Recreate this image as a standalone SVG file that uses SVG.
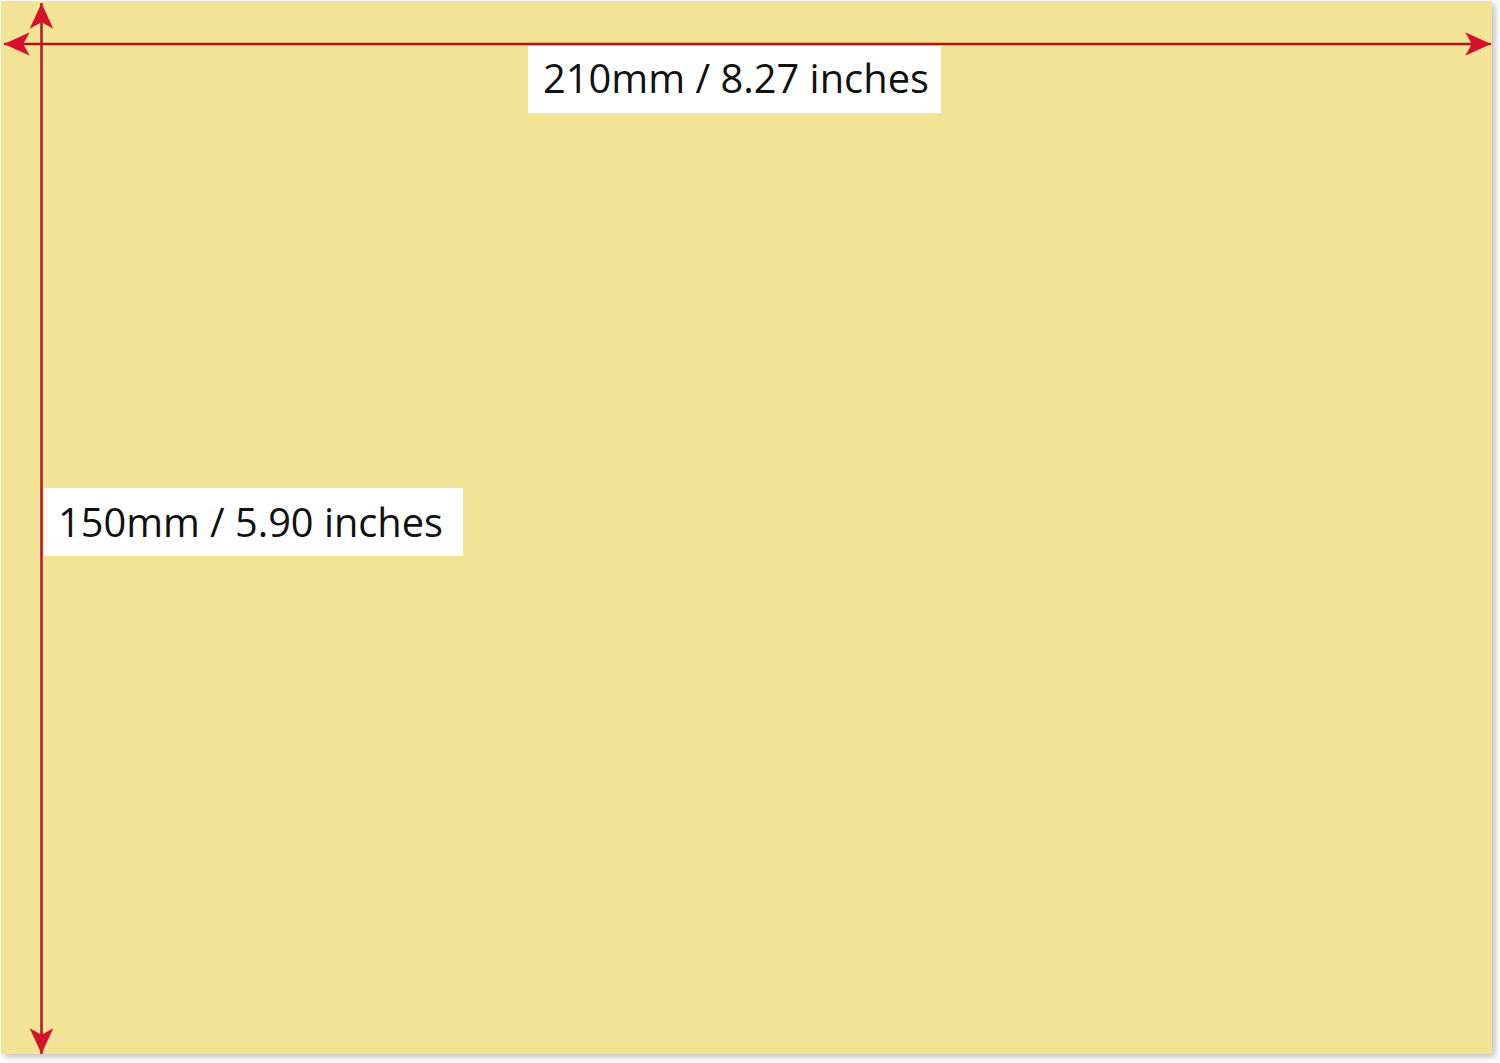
<svg xmlns="http://www.w3.org/2000/svg" width="1500" height="1063" viewBox="0 0 1500 1063">
  <style>
    .dim { stroke: #B3141F; stroke-width: 2.5; fill: none; }
    .lblbox { fill: #FFFFFF; }
    .lbl { font-family: "Open Sans", "Liberation Sans", sans-serif; font-size: 41px; fill: #111111; }
  </style>
  <defs>
    <filter id="shadow" x="-2%" y="-2%" width="104%" height="105%">
      <feDropShadow dx="3" dy="3" stdDeviation="3" flood-color="#000000" flood-opacity="0.25"/>
    </filter>
    <marker id="arr" markerUnits="userSpaceOnUse" markerWidth="30" markerHeight="30" viewBox="-26 -13 28 26" refX="0" refY="0" orient="auto-start-reverse">
      <path d="M0,0 L-24,-11 L-18,0 L-24,11 Z" fill="#D7102B"/>
    </marker>
  </defs>
  <rect x="0" y="0" width="1500" height="1063" fill="#FFFFFF"/>
  <g id="sheet">
    <rect x="1" y="1" width="1491" height="1053" fill="#F2E396" filter="url(#shadow)"/>
  </g>
  <g id="connectors">
    <line class="dim" x1="4" y1="44" x2="1491" y2="44" marker-start="url(#arr)" marker-end="url(#arr)"/>
    <line class="dim" x1="41.5" y1="3" x2="41.5" y2="1054" marker-start="url(#arr)" marker-end="url(#arr)"/>
  </g>
  <g id="width-label">
    <rect class="lblbox" x="528" y="46" width="413" height="67"/>
    <text class="lbl" x="543" y="93" textLength="386" lengthAdjust="spacingAndGlyphs">210mm / 8.27 inches</text>
  </g>
  <g id="height-label">
    <rect class="lblbox" x="44" y="488" width="419" height="68"/>
    <text class="lbl" x="58" y="537" textLength="385" lengthAdjust="spacingAndGlyphs">150mm / 5.90 inches</text>
  </g>
</svg>
